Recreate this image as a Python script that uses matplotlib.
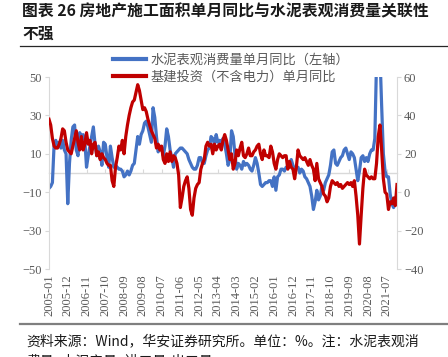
import matplotlib
matplotlib.use('Agg')
import matplotlib.pyplot as plt
import pandas as pd
from matplotlib.lines import Line2D

months = pd.date_range('2005-01-01', periods=205, freq='MS').strftime('%Y-%m').tolist()

cement_yoy = [
    -8, -7, -5, 15, 17, 14, 16, 13, 17, 12,
    10, -16, 5, 17, 24, 25, 12, 9, 21, 19,
    20, 17, 3, 9, 14, 19, 24, 15, 9, 14,
    11, 4, 16, 15, 8, 3, 14, 8, 3, 4,
    3, 2, 2, 1, -2, -1, 1, -1, 1, 4,
    5, 12, 19, 15, 20, 22, 26, 27, 24, 20,
    16, 34, 29, 19, 11, 14, 13, 9, 14, 23,
    19, 12, 8, 3, 10, 11, 12, 13, 13, 12,
    11, 10, 7, 5, 3, 2, 2, 4, 8, 8,
    5, 5, 9, 12, 13, 19, 18, 15, 20, 16,
    17, 16, 18, 15, 10, 4, 7, 22, 19, 10,
    2, 5, 4, 2, 6, 4, 5, 4, 2, 1,
    4, 8, 5, 0, -6, -7, -6, -5, -5, -4,
    -4, -7, -2, -9, -2, -1, 2, 2, 1, 3,
    3, 5, 7, 4, 2, 3, 3, 0, 2, 1,
    -2, -3, -5, -7, -12, -19, -15, -9, -14, -12,
    -7, -9, -5, -3, -1, 4, 11, 12, 5, 4,
    6, 8, 9, 12, 13, 10, 7, 11, 10, 8,
    2, -4, 1, 8, 9, 6, 8, 6, 10, 12,
    12, 18, 58, 75, 62, 35, 10, 1, -2, -2,
    -11, -16, -18, -14, -11,
]

infra_yoy = [
    38, 35, 28, 24, 23, 23, 25, 28, 33, 32,
    26, 22, 21, 20, 24, 28, 32, 26, 22, 29,
    22, 25, 31, 25, 27, 20, 25, 26, 19, 21,
    17, 20, 18, 17, 15, 14, 14, 6, 3, 13,
    18, 24, 22, 27, 20, 29, 35, 40, 44, 47,
    48, 52, 56, 53, 48, 43, 44, 42, 38, 35,
    32, 30, 28, 23, 25, 22, 24, 17, 15, 20,
    16, 21, 16, 19, 18, 15, 9, -8, -3, 3,
    6, 8, 2, -9, -12, -3, 2, 4, 5, 12,
    15, 17, 24, 26, 24, 25, 20, 25, 22, 24,
    25, 22, 27, 30, 27, 22, 17, 20, 12, 15,
    22, 19, 23, 26, 19, 18, 20, 23, 19, 19,
    21, 22, 24, 25, 20, 17, 22, 19, 19, 18,
    24, 21, 15, 12, 17, 20, 19, 18, 19, 19,
    12, 16, 13, 12, 7, 13, 22, 19, 18, 17,
    18, 16, 14, 17, 14, 12, 6, 15, 7, 5,
    3, -1, -2, -5, -3, 3, 6, 5, 4, 5,
    3, 4, 2, 3, 4, 5, 4, 5, 3, 6,
    -2, -12, -27, -12, 2, 12, 9, 8, 7, 8,
    7, 7, 15, 29, 35, 22, 7, 0, -1, -9,
    -5, -6, -3, -7, 4,
]

series_labels = ['水泥表观消费量单月同比（左轴）', '基建投资（不含电力）单月同比']
left_ticks = [-50, -30, -10, 10, 30, 50]
right_ticks = [-40, -20, 0, 20, 40, 60]

CJK = ['Noto Sans CJK SC', 'DejaVu Sans']
SERIF = ['Liberation Serif', 'DejaVu Serif']
BLUE = '#4472C4'
RED = '#C00000'
GRAY_TXT = '#595959'
AX_GRAY = '#D9D9D9'

W, H = 448, 357
fig = plt.figure(figsize=(W / 100, H / 100), dpi=100)

x = list(range(len(months)))
ax = fig.add_axes([49 / W, 1 - 269 / H, (397 - 49) / W, (269 - 77) / H])
ax2 = ax.twinx()

l1, = ax.plot(x, cement_yoy, color=BLUE, lw=2.3, solid_joinstyle='round')
l2, = ax2.plot(x, infra_yoy, color=RED, lw=2.3, solid_joinstyle='round')

ax.set_xlim(0, len(months) - 1)
ax.set_ylim(-50, 50)
ax2.set_ylim(-40, 60)
ax.set_yticks(left_ticks)
ax2.set_yticks(right_ticks)

for a in (ax, ax2):
    for s in a.spines.values():
        s.set_visible(False)
    a.patch.set_visible(False)
ax.spines['left'].set_visible(True)
ax.spines['left'].set_color(AX_GRAY)
ax2.spines['right'].set_visible(True)
ax2.spines['right'].set_color(AX_GRAY)

ax.tick_params(axis='y', colors=AX_GRAY, length=3, width=0.8, labelcolor=GRAY_TXT,
               labelsize=9, pad=2)
ax2.tick_params(axis='y', colors=AX_GRAY, length=3, width=0.8, labelcolor=GRAY_TXT,
                labelsize=9, pad=2)
for lab in ax.get_yticklabels() + ax2.get_yticklabels():
    lab.set_family(SERIF)

# x tick labels at bottom
xt = list(range(0, len(months), 11))
ax.set_xticks(xt)
ax.set_xticklabels([months[i] for i in xt], rotation=90, family=SERIF, fontsize=9,
                   color=GRAY_TXT)
ax.tick_params(axis='x', length=0, pad=4)

# zero line with category ticks
sec = ax.secondary_xaxis(0.5)
sec.set_xticks(xt)
sec.set_xticklabels([])
sec.tick_params(axis='x', colors=AX_GRAY, length=3, width=0.8, direction='out')
for s in sec.spines.values():
    s.set_color(AX_GRAY)
    s.set_linewidth(1.0)

ax.set_zorder(1)
ax2.set_zorder(2)

leg = fig.legend([l1, l2], series_labels, loc='upper left',
                 bbox_to_anchor=(113 / W, 1 - 54 / H), frameon=False,
                 prop={'family': CJK, 'size': 9.5}, labelcolor=GRAY_TXT,
                 handlelength=2.5, handletextpad=0.35, labelspacing=0.3,
                 borderpad=0, borderaxespad=0)
for h in leg.legend_handles:
    h.set_linewidth(3)

# title
fig.text(22 / W, 1 - 11 / H, '图表 26 房地产施工面积单月同比与水泥表观消费量关联性',
         family=CJK, fontsize=11.4, fontweight='bold', color='#1a1a1a', va='center', ha='left')
fig.text(22 / W, 1 - 34 / H, '不强', family=CJK, fontsize=11.4, fontweight='bold',
         color='#1a1a1a', va='center', ha='left')
fig.add_artist(Line2D([20 / W, 1], [1 - 46 / H, 1 - 46 / H], transform=fig.transFigure,
                      color='#262626', lw=0.9))

# footer
fig.add_artist(Line2D([20 / W, 1], [1 - 323.5 / H, 1 - 323.5 / H], transform=fig.transFigure,
                      color='#7f7f7f', lw=1.6))
fig.text(26 / W, 1 - 341 / H, '资料来源：Wind，华安证券研究所。单位：%。注：水泥表观消',
         family=CJK, fontsize=10, color='#1a1a1a', va='center', ha='left')
fig.text(26 / W, 1 - 361 / H, '费量=水泥产量+进口量-出口量',
         family=CJK, fontsize=10, color='#1a1a1a', va='center', ha='left')

fig.savefig('out.png', dpi=100)
